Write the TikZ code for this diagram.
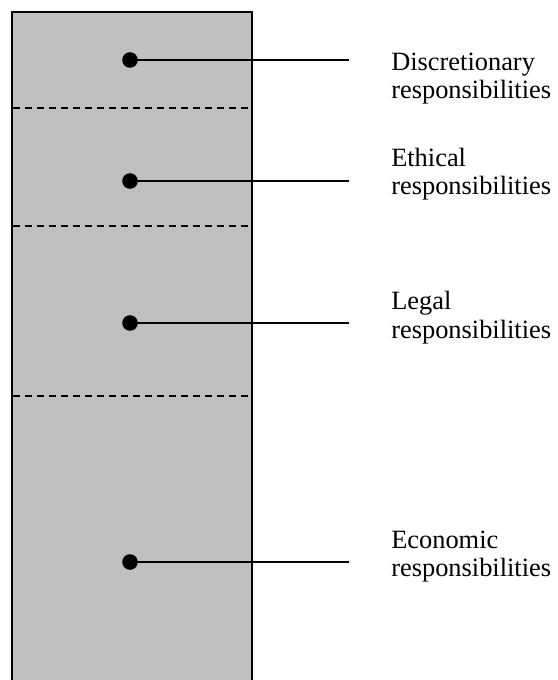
\documentclass[tikz,border=0pt]{standalone}
\usepackage{fontspec}
\setmainfont{Liberation Serif}
\usetikzlibrary{positioning, calc}
\definecolor{pyramidgray}{HTML}{C0C0C0}
\tikzset{x=0.75pt, y=-0.75pt, % One unit is one pixel of the target, y grows downwards
        dot/.style={ % Marker inside the column
            circle,
            fill=black,
            inner sep=0pt,
            minimum size=11.7pt},
        lead/.style={ % Line from a marker out to its text
            draw,
            line width=1.6pt},
        divider/.style={ % Border between two layers
            draw,
            dash pattern=on 5.2pt off 3.8pt,
            line width=1.1pt},
        resp/.style={ % Text beside the column, placed by its last baseline
            anchor=base west,
            align=left,
            inner sep=0pt,
            font=\fontsize{19.8pt}{21pt}\selectfont}
        }
\begin{document}
\begin{tikzpicture}
    \useasboundingbox (0,0) rectangle (557,680);
    \clip (0,0) rectangle (557,680);

    % the column, open at the bottom
    \fill[pyramidgray] (12,12) rectangle (252,700);
    \draw[line width=1.9pt] (12,700) -- (12,12) -- (252,12) -- (252,700);

    \draw[divider] (13,108) -- (251,108);
    \draw[divider] (13,226) -- (251,226);
    \draw[divider] (13,396) -- (251,396);

    \node[dot]  (disc)      at (130,60)  {};
    \node[dot]  (ethic)     at (130,181) {};
    \node[dot]  (legal)     at (130,323) {};
    \node[dot]  (econ)      at (130,562) {};

    \coordinate (disc end)  at (349,60);
    \coordinate (ethic end) at (349,181);
    \coordinate (legal end) at (349,323);
    \coordinate (econ end)  at (349,562);

    \node[resp] (disc text)  at (391,99)  {Discretionary\\responsibilities};
    \node[resp] (ethic text) at (391,195) {Ethical\\responsibilities};
    \node[resp] (legal text) at (391,338) {Legal\\responsibilities};
    \node[resp] (econ text)  at (391,576) {Economic\\responsibilities};

    \draw[lead] (disc.center)  -- (disc end);
    \draw[lead] (ethic.center) -- (ethic end);
    \draw[lead] (legal.center) -- (legal end);
    \draw[lead] (econ.center)  -- (econ end);
\end{tikzpicture}
\end{document}
